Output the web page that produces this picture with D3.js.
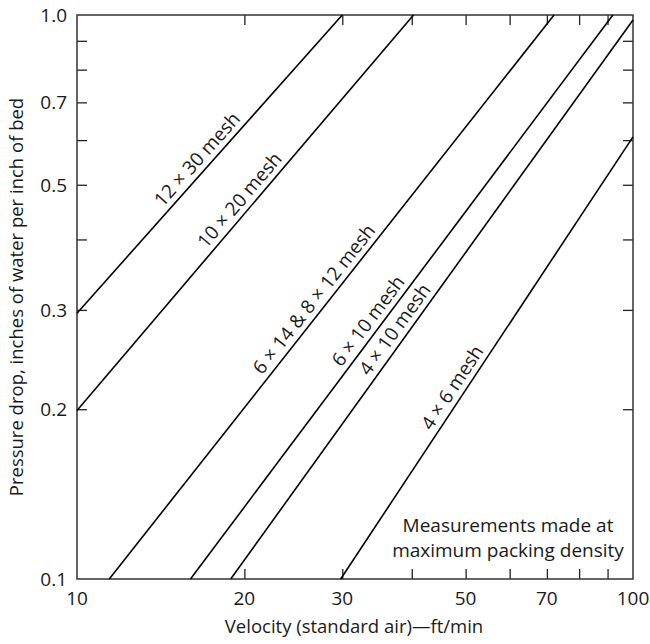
<!DOCTYPE html>
<html>
<head>
<meta charset="utf-8">
<script src="https://cdn.jsdelivr.net/npm/d3@7"></script>
<style>
  body { margin: 0; background: #fff; }
  svg { display: block; font-family: "Open Sans", sans-serif; }
  .frame { fill: none; stroke: #333; stroke-width: 1.5; }
  .tick line { stroke: #222; stroke-width: 1.3; }
  .mesh { fill: none; stroke: #000; stroke-width: 1.6; }
  text { fill: #1a1a1a; }
</style>
</head>
<body>
<div id="chart"></div>
<script>
// pressure drop lines (velocity ft/min, in. water per in. bed)
const meshNames = ["12 \u00d7 30 mesh", "10 \u00d7 20 mesh",
                   "6 \u00d7 14 & 8 \u00d7 12 mesh", "6 \u00d7 10 mesh",
                   "4 \u00d7 10 mesh", "4 \u00d7 6 mesh"];
const velocityStart = [10, 10, 11.43, 16.0, 18.9, 29.8];
const dropStart     = [0.296, 0.199, 0.1, 0.1, 0.1, 0.1];
const velocityEnd   = [30.0, 40.3, 72.1, 92.0, 100, 100];
const dropEnd       = [1.0, 1.0, 1.0, 1.0, 0.98, 0.608];

const xTickLabels = [10, 20, 30, 50, 70, 100];
const yTickLabels = [0.1, 0.2, 0.3, 0.5, 0.7, 1.0];
const xMinor = [20, 30, 40, 50, 60, 70, 80, 90];
const yMinor = [0.2, 0.3, 0.4, 0.5, 0.6, 0.7, 0.8, 0.9];

// where along each line the label sits (velocity) and how far above it
const labelAt = [17.1, 20.4, 27.8, 34.8, 38.9, 49.4];
const labelOff = [6, 6, 6, 6, 6, 6];

const W = 650, H = 644;
const margin = {top: 15, right: 17, bottom: 65, left: 77};
const iw = W - margin.left - margin.right;
const ih = H - margin.top - margin.bottom;

const svg = d3.select("#chart").append("svg")
    .attr("width", W)
    .attr("height", H);

const g = svg.append("g")
    .attr("transform", `translate(${margin.left},${margin.top})`);

const x = d3.scaleLog().domain([10, 100]).range([0, iw]);
const y = d3.scaleLog().domain([0.1, 1]).range([ih, 0]);

// inward ticks on all four sides
function tickAxis(axis, tx) {
    const a = g.append("g")
        .attr("class", "tick")
        .attr("transform", tx)
        .call(axis);
    a.select(".domain").remove();
    a.selectAll("text").remove();
    return a;
}
tickAxis(d3.axisTop(x).tickValues(xMinor).tickSize(10), `translate(0,${ih})`);
tickAxis(d3.axisBottom(x).tickValues(xMinor).tickSize(10), "translate(0,0)");
tickAxis(d3.axisRight(y).tickValues(yMinor).tickSize(10), "translate(0,0)");
tickAxis(d3.axisLeft(y).tickValues(yMinor).tickSize(10), `translate(${iw},0)`);

g.append("rect")
    .attr("class", "frame")
    .attr("width", iw)
    .attr("height", ih);

// tick labels
g.selectAll(".xl")
    .data(xTickLabels)
    .enter().append("text")
    .attr("x", d => x(d))
    .attr("y", ih + 26)
    .attr("text-anchor", "middle")
    .style("font-size", "19px")
    .text(d => d);

g.selectAll(".yl")
    .data(yTickLabels)
    .enter().append("text")
    .attr("x", -10)
    .attr("y", d => y(d))
    .attr("dy", "0.36em")
    .attr("text-anchor", "end")
    .style("font-size", "19px")
    .text(d => d3.format(".1f")(d));

// mesh lines
const lines = meshNames.map((name, i) => ({
    name: name,
    pts: [[velocityStart[i], dropStart[i]], [velocityEnd[i], dropEnd[i]]]
}));

const line = d3.line().x(d => x(d[0])).y(d => y(d[1]));

g.selectAll("path.mesh")
    .data(lines)
    .enter().append("path")
    .attr("class", "mesh")
    .attr("d", d => line(d.pts));

// labels along the lines
lines.forEach((d, i) => {
    const p0 = d.pts[0], p1 = d.pts[1];
    const dx = x(p1[0]) - x(p0[0]);
    const dy = y(p1[1]) - y(p0[1]);
    const ang = Math.atan2(dy, dx);
    const t = Math.log(labelAt[i] / p0[0]) / Math.log(p1[0] / p0[0]);
    const px = x(p0[0]) + t * dx;
    const py = y(p0[1]) + t * dy;
    g.append("text")
        .attr("transform", `translate(${px},${py}) rotate(${ang * 180 / Math.PI}) translate(0,${-labelOff[i]})`)
        .attr("text-anchor", "middle")
        .style("font-size", "19px")
        .text(d.name);
});

// note
const note = g.append("text")
    .attr("text-anchor", "middle")
    .style("font-size", "19px");
note.append("tspan").attr("x", 431).attr("y", 517).text("Measurements made at");
note.append("tspan").attr("x", 431).attr("y", 542).text("maximum packing density");

// axis titles
svg.append("text")
    .attr("x", margin.left + iw / 2 - 1)
    .attr("y", 633)
    .attr("text-anchor", "middle")
    .style("font-size", "18.5px")
    .text("Velocity (standard air)\u2014ft/min");

svg.append("text")
    .attr("transform", "translate(23,297) rotate(-90)")
    .attr("text-anchor", "middle")
    .style("font-size", "18.5px")
    .text("Pressure drop, inches of water per inch of bed");
</script>
</body>
</html>
